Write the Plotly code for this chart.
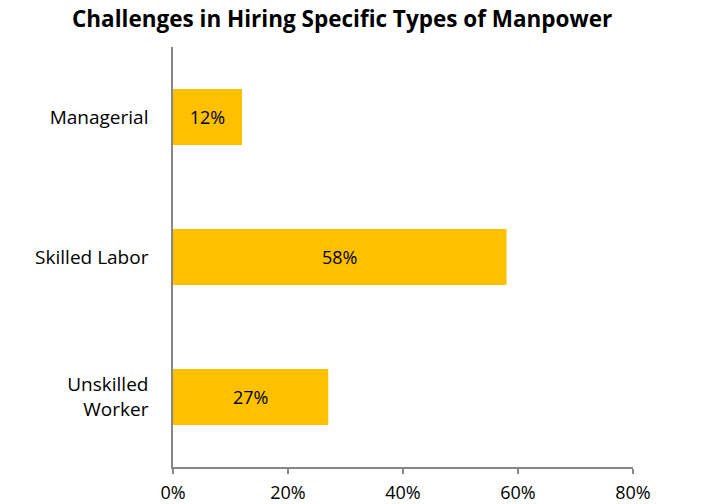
import plotly.graph_objects as go

categories = ["Managerial", "Skilled Labor", "Unskilled<br>Worker"]
values = [12, 58, 27]
tick_vals = [0, 20, 40, 60, 80]
tick_text = ["0%", "20%", "40%", "60%", "80%"]

FONT = "'Open Sans', Lato, sans-serif"

fig = go.Figure(go.Bar(
    y=categories,
    x=values,
    orientation="h",
    marker=dict(color="#FFC000", line=dict(width=0)),
    text=[f"{v}%" for v in values],
    textposition="inside",
    insidetextanchor="middle",
    textfont=dict(family=FONT, size=18, color="#000000"),
    hoverinfo="skip",
))

fig.update_layout(
    width=717, height=496,
    margin=dict(l=165, r=92, t=39, b=37, autoexpand=False),
    paper_bgcolor="white",
    plot_bgcolor="white",
    bargap=0.6,
    showlegend=False,
    title=dict(
        text="<b>Challenges in Hiring Specific Types of Manpower</b>",
        x=0.466, xanchor="center", y=0.977, yanchor="middle",
        font=dict(family=FONT, size=22.5, color="#000000"),
    ),
    font=dict(family=FONT, size=17, color="#000000"),
)

fig.update_xaxes(
    range=[0, 80],
    tickvals=tick_vals,
    ticktext=tick_text,
    showgrid=False,
    zeroline=False,
    showline=True,
    linecolor="#868686",
    linewidth=1.5,
    ticks="outside",
    ticklen=5,
    tickcolor="#868686",
    tickwidth=1.5,
    ticklabelstandoff=4,
    automargin=False,
    tickfont=dict(family=FONT, size=18, color="#000000"),
)

fig.update_yaxes(
    categoryorder="array",
    categoryarray=categories[::-1],
    showgrid=False,
    zeroline=False,
    showline=True,
    linecolor="#868686",
    linewidth=1.5,
    ticks="",
    ticklabelstandoff=19,
    automargin=False,
    tickfont=dict(family=FONT, size=19, color="#000000"),
)

fig.write_html("out.html")
